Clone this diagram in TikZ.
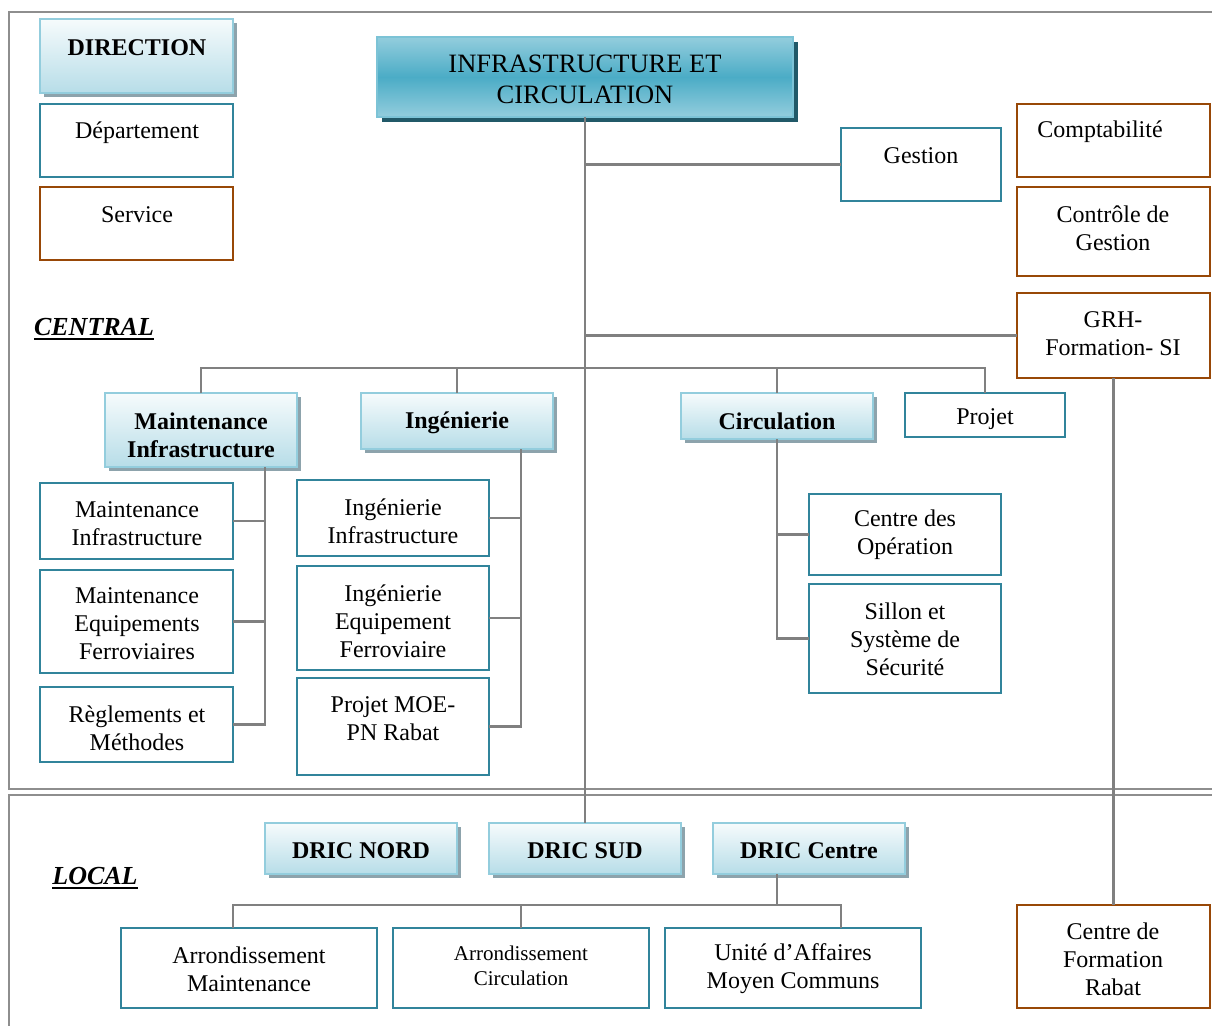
\documentclass[tikz,border=0pt]{standalone}
\usepackage{fontspec}
\setmainfont{Liberation Serif}

\definecolor{tealline}{HTML}{31849B}
\definecolor{brownline}{HTML}{984807}
\definecolor{connector}{HTML}{808080}
\definecolor{framegray}{HTML}{8E8E8E}
\definecolor{lightedge}{HTML}{93CDDD}
\definecolor{lighttop}{HTML}{F6FBFC}
\definecolor{lightbot}{HTML}{B7DDE8}
\definecolor{lightshadow}{HTML}{8DA3AC}
\definecolor{headedge}{HTML}{7CC3D6}
\definecolor{headmid}{HTML}{4BACC6}
\definecolor{headouter}{HTML}{93CDDD}
\definecolor{headshadow}{HTML}{215968}

\tikzset{
  unitbox/.style={rectangle, draw=tealline, line width=2pt, fill=white, inner sep=0pt, outer sep=0pt},
  svcbox/.style={rectangle, draw=brownline, line width=2pt, fill=white, inner sep=0pt, outer sep=0pt},
  dirbox/.style={rectangle, draw=lightedge, line width=2pt, top color=lighttop, bottom color=lightbot, inner sep=0pt, outer sep=0pt},
  headbox/.style={rectangle, draw=headedge, line width=2pt, top color=headouter, bottom color=headouter, middle color=headmid, inner sep=0pt, outer sep=0pt},
  conn/.style={draw=connector, line width=2.3pt},
  frameline/.style={draw=framegray, line width=2.5pt},
  txt/.style={align=center, inner sep=0pt, yshift=-2pt, font=\fontsize{24}{28}\selectfont},
  btxt/.style={align=center, inner sep=0pt, yshift=-2pt, font=\fontsize{24}{28}\selectfont\bfseries},
  smalltxt/.style={align=center, inner sep=0pt, yshift=-2pt, font=\fontsize{21}{25}\selectfont},
  headtxt/.style={align=center, inner sep=0pt, yshift=-1pt, font=\fontsize{26.5}{31}\selectfont},
  leveltxt/.style={inner sep=0pt, yshift=-1pt, font=\fontsize{26}{30}\selectfont\bfseries\itshape},
}

% box given by its corners (x1,y1)-(x2,y2)
\newcommand\plainbox[6]{%
  \node[#2, anchor=north west, minimum width={#5-#3}, minimum height={#6-#4}] (#1) at (#3,#4) {};}
% same, with a solid shadow offset down and right
\newcommand\raisedbox[8]{%
  \fill[#7] (#3+#8,#4+#8) rectangle (#5+#8,#6+#8);
  \plainbox{#1}{#2}{#3}{#4}{#5}{#6}}

\begin{document}
\begin{tikzpicture}[x=1pt,y=-1pt]
\useasboundingbox (0,0) rectangle (1212,1025);

% frames of the two levels
\draw[frameline] (1214,12) -- (9,12) -- (9,789) -- (1214,789);
\draw[frameline] (1214,795) -- (9,795) -- (9,1027);

% legend
\raisedbox{dir}{dirbox}{40}{19}{233}{93}{lightshadow}{4}
\plainbox{dep}{unitbox}{40}{104}{233}{177}
\plainbox{svc}{svcbox}{40}{187}{233}{260}
\node[btxt] at (137,46) {DIRECTION};
\node[txt] at (137,131) {Département};
\node[txt] at (137,213) {Service};

% head of the organisation
\raisedbox{head}{headbox}{377}{37}{793}{117}{headshadow}{5}
\node[headtxt] at (585,78.5) {INFRASTRUCTURE ET\\CIRCULATION};

% staff units
\plainbox{gest}{unitbox}{841}{128}{1001}{201}
\plainbox{compta}{svcbox}{1017}{104}{1210}{177}
\plainbox{cdg}{svcbox}{1017}{187}{1210}{276}
\plainbox{grh}{svcbox}{1017}{293}{1210}{378}
\node[txt] at (921,154) {Gestion};
\node[txt] at (1100,130) {Comptabilité};
\node[txt] at (1113,226) {Contrôle de\\Gestion};
\node[txt] at (1113,332) {GRH-\\Formation- SI};

% central directions
\raisedbox{mi}{dirbox}{105}{393}{297}{467}{lightshadow}{4}
\raisedbox{ing}{dirbox}{361}{393}{553}{449}{lightshadow}{4}
\raisedbox{circ}{dirbox}{681}{393}{873}{439}{lightshadow}{4}
\plainbox{proj}{unitbox}{905}{393}{1065}{437}
\node[btxt] at (201,433) {Maintenance\\Infrastructure};
\node[btxt] at (457,421) {Ingénierie};
\node[btxt] at (777,419) {Circulation};
\node[txt] at (985,417) {Projet};

% maintenance departments
\plainbox{mif}{unitbox}{40}{483}{233}{559}
\plainbox{mef}{unitbox}{40}{570}{233}{673}
\plainbox{mr}{unitbox}{40}{687}{233}{762}
\node[txt] at (137,522) {Maintenance\\Infrastructure};
\node[txt] at (137,622) {Maintenance\\Equipements\\Ferroviaires};
\node[txt] at (137,726) {Règlements et\\Méthodes};

% engineering departments
\plainbox{iif}{unitbox}{297}{480}{489}{556}
\plainbox{ief}{unitbox}{297}{566}{489}{670}
\plainbox{ipm}{unitbox}{297}{678}{489}{775}
\node[txt] at (393,519.5) {Ingénierie\\Infrastructure};
\node[txt] at (393,619.5) {Ingénierie\\Equipement\\Ferroviaire};
\node[txt] at (393,717) {Projet MOE-\\PN Rabat};

% traffic departments
\plainbox{co}{unitbox}{809}{494}{1001}{575}
\plainbox{ss}{unitbox}{809}{584}{1001}{693}
\node[txt] at (905,533) {Centre des\\Opération};
\node[txt] at (905,637) {Sillon et\\Système de\\Sécurité};

% level names
\node[leveltxt] (cen) at (94,326) {CENTRAL};
\draw[line width=2pt] ([yshift=-4pt]cen.base west) -- ([yshift=-4pt]cen.base east);
\node[leveltxt] (loc) at (95,875) {LOCAL};
\draw[line width=2pt] ([yshift=-4pt]loc.base west) -- ([yshift=-4pt]loc.base east);

% regional directions
\raisedbox{dnord}{dirbox}{265}{823}{457}{874}{lightshadow}{4}
\raisedbox{dsud}{dirbox}{489}{823}{681}{874}{lightshadow}{4}
\raisedbox{dcen}{dirbox}{713}{823}{905}{874}{lightshadow}{4}
\node[btxt] at (361,849) {DRIC NORD};
\node[btxt] at (585,849) {DRIC SUD};
\node[btxt] at (809,849) {DRIC Centre};

% regional units
\plainbox{am}{unitbox}{121}{928}{377}{1008}
\plainbox{ac}{unitbox}{393}{928}{649}{1008}
\plainbox{ua}{unitbox}{665}{928}{921}{1008}
\plainbox{cfr}{svcbox}{1017}{905}{1210}{1008}
\node[txt] at (249,967) {Arrondissement\\Maintenance};
\node[smalltxt] at (521,963.5) {Arrondissement\\Circulation};
\node[txt] at (793,967) {Unité d’Affaires\\Moyen Communs};
\node[txt] at (1113,957.5) {Centre de\\Formation\\Rabat};

% connectors
\coordinate (bus) at (0,368);
\coordinate (mspine) at (265,0);
\coordinate (ispine) at (521,0);
\coordinate (lbus) at (0,905);
\coordinate (dspine) at (777,0);
\coordinate (amdrop) at (233,0);
\coordinate (uadrop) at (841,0);

\draw[conn] (head.south) -- (dsud.north);
\draw[conn] (gest.west) -- (gest.west -| head.south);
\draw[conn] (grh.west) -- (grh.west -| head.south);
\draw[conn] (grh.south) -- (cfr.north);

\draw[conn] (mi.north) |- (bus -| proj.north) -- (proj.north);
\draw[conn] (ing.north) -- (ing.north |- bus);
\draw[conn] (circ.north) -- (circ.north |- bus);

\draw[conn] (mi.south -| mspine) |- (mr.east);
\draw[conn] (mif.east) -- (mif.east -| mspine);
\draw[conn] (mef.east) -- (mef.east -| mspine);

\draw[conn] (ing.south -| ispine) |- (ipm.east);
\draw[conn] (iif.east) -- (iif.east -| ispine);
\draw[conn] (ief.east) -- (ief.east -| ispine);

\draw[conn] (circ.south) |- (ss.west);
\draw[conn] (co.west) -- (co.west -| circ.south);

\draw[conn] (dcen.south -| dspine) -- (dspine |- lbus);
\draw[conn] (am.north -| amdrop) |- (lbus -| uadrop) -- (ua.north -| uadrop);
\draw[conn] (ac.north) -- (ac.north |- lbus);
\end{tikzpicture}
\end{document}
